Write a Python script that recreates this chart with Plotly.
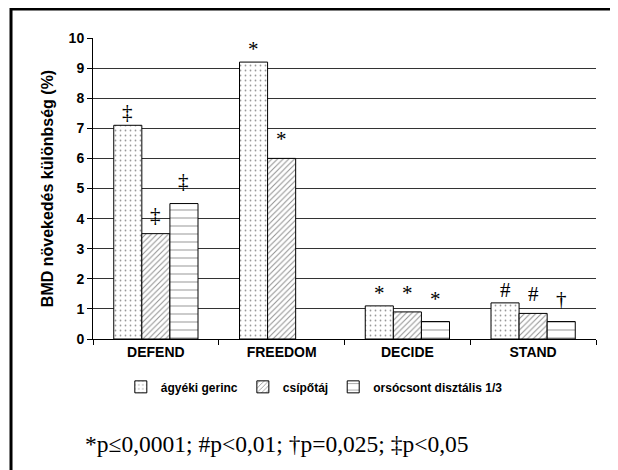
import plotly.graph_objects as go

categories = ["DEFEND", "FREEDOM", "DECIDE", "STAND"]
series_names = ["ágyéki gerinc", "csípőtáj", "orsócsont disztális 1/3"]
lumbar = [7.1, 9.2, 1.1, 1.2]
hip = [3.5, 6.0, 0.9, 0.85]
radius = [4.5, None, 0.58, 0.58]
lumbar_sig = ["‡", "*", "*", "#"]
hip_sig = ["‡", "*", "*", "#"]
radius_sig = ["‡", "", "*", "†"]
y_ticks = list(range(0, 11))
footnote = "*p≤0,0001; #p<0,01; †p=0,025; ‡p<0,05"
y_title = "BMD növekedés különbség (%)"

SANS = "Liberation Sans, Arial, sans-serif"
SERIF = "Liberation Serif, Times New Roman, serif"

patterns = [
    dict(shape=".", size=5, solidity=0.1, fgcolor="#333", bgcolor="white"),
    dict(shape="/", size=4, solidity=0.25, fgcolor="#222", bgcolor="white"),
    dict(shape="-", size=8, solidity=0.12, fgcolor="#222", bgcolor="white"),
]
all_values = [lumbar, hip, radius]
all_sig = [lumbar_sig, hip_sig, radius_sig]
sig_shift = [13, 19, 23]

fig = go.Figure()
for name, vals, pat in zip(series_names, all_values, patterns):
    fig.add_trace(go.Bar(
        x=categories, y=vals, name=name,
        marker=dict(color="white", line=dict(color="black", width=1), pattern=pat),
    ))

fig.update_layout(
    width=610, height=462,
    margin=dict(l=85, r=22, t=30, b=131),
    paper_bgcolor="white", plot_bgcolor="white",
    barmode="group", bargap=0.33, bargroupgap=0,
    showlegend=True,
    legend=dict(orientation="h", x=0.44, xanchor="center", y=-0.159, yanchor="middle",
                font=dict(family=SANS, size=12, color="black", weight="bold"),
                itemwidth=30, traceorder="normal", tracegroupgap=0),
    font=dict(family=SANS, color="black"),
    xaxis=dict(showline=True, linecolor="black", linewidth=1,
               ticks="outside", ticklen=5, tickcolor="black", tickson="boundaries",
               tickfont=dict(family=SANS, size=14, color="black", weight="bold"),
               showgrid=False),
    yaxis=dict(range=[0, 10], tickvals=y_ticks, showline=True, linecolor="black", linewidth=1,
               ticks="outside", ticklen=5, tickcolor="black",
               showgrid=True, gridcolor="#333", gridwidth=1,
               tickfont=dict(family=SANS, size=14, color="black", weight="bold"),
               title=dict(text=y_title, font=dict(family=SANS, size=16, color="black", weight="bold"),
                          standoff=11),
               zeroline=False),
)

n = len(series_names)
for si, (vals, sigs) in enumerate(zip(all_values, all_sig)):
    for ci, (v, s) in enumerate(zip(vals, sigs)):
        if v is None or not s:
            continue
        fig.add_annotation(
            x=categories[ci], y=v, xref="x", yref="y",
            text=s, showarrow=False, yanchor="middle",
            xshift=(si - (n - 1) / 2) * 28, yshift=sig_shift[si],
            font=dict(family=SERIF, size=21, color="black"),
        )

fig.add_annotation(
    x=-0.02, y=-0.35, xref="paper", yref="paper", xanchor="left", yanchor="middle",
    text=footnote, showarrow=False,
    font=dict(family=SERIF, size=23.5, color="black"),
)

# outer frame (top and left edges visible)
fig.add_shape(type="rect", xref="paper", yref="paper",
              x0=-0.163, x1=1.3, y0=-0.6, y1=1.096,
              line=dict(color="black", width=3), layer="above")

fig.write_html("out.html")
